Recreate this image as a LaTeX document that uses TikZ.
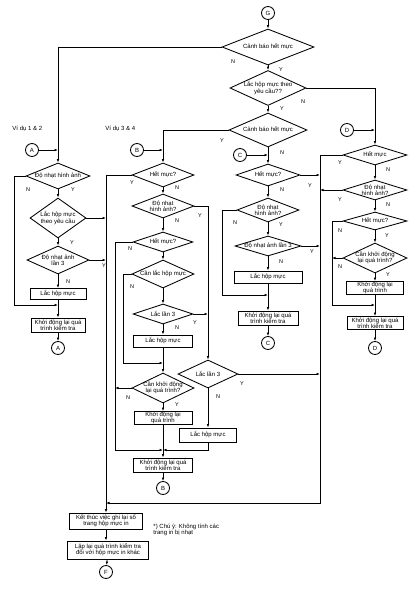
\documentclass[tikz,border=0pt]{standalone}
\usepackage{fontspec}
\setmainfont{Liberation Sans}
\usepackage{tikz}
\usetikzlibrary{arrows.meta,shapes.geometric}
\tikzset{
  decision/.style={diamond, draw, aspect=3, inner xsep=-3pt, inner ysep=-1pt, align=center},
  procbox/.style={rectangle, draw, inner sep=0.5pt, align=center},
  conn/.style={circle, draw, inner sep=0pt, minimum size=13pt},
  flow/.style={-{Latex[length=3.5pt,width=2.6pt]}},
  yn/.style={inner sep=0pt, font=\fontsize{5.5}{6}\selectfont}
}

\begin{document}
\begin{tikzpicture}[x=1pt, y=-1pt, line width=0.85pt, font=\fontsize{6}{6.2}\selectfont]
\useasboundingbox (0,0) rectangle (411,589);

\node[conn] (conG) at (268,13) {G};
\node[decision, minimum width=92, minimum height=36] (warn1) at (268,47) {Cảnh báo hết mực};
\node[decision, aspect=2, minimum width=76, minimum height=35] (ask) at (268,88) {Lắc hộp mực theo\\yêu cầu??};
\node[decision, minimum width=78, minimum height=34] (warn2) at (268,130) {Cảnh báo hết mực};
\node[anchor=west, inner sep=0pt] (ex12) at (12,129) {Ví dụ 1 \& 2};
\node[anchor=west, inner sep=0pt] (ex34) at (105,129) {Ví dụ 3 \& 4};

\node[conn] (conA) at (32,150) {A};
\node[decision, minimum width=64, minimum height=26] (a1) at (58,176) {Độ nhạt hình ảnh};
\node[decision, aspect=1.4, minimum width=56, minimum height=40] (a2) at (58,218) {Lắc hộp mực\\theo yêu cầu};
\node[decision, aspect=2, minimum width=62, minimum height=28] (a3) at (58,260) {Độ nhạt ảnh\\lần 3};
\node[procbox, minimum width=56, minimum height=11] (a4) at (58,294) {Lắc hộp mực};
\node[procbox, minimum width=54, minimum height=14] (a5) at (58,325) {Khởi động lại quá\\trình kiểm tra};
\node[conn] (endA) at (58,348) {A};
\coordinate (amerge) at (58,305);
\coordinate (aout) at (14,305);

\node[conn] (conB) at (137,150) {B};
\node[decision, minimum width=62, minimum height=24] (b1) at (163,175) {Hết mực?};
\node[decision, aspect=2.5, minimum width=62, minimum height=24] (b2) at (163,206) {Độ nhạt\\hình ảnh?};
\node[decision, minimum width=60, minimum height=20] (b3) at (163,242) {Hết mực?};
\node[decision, minimum width=62, minimum height=28] (b4) at (163,274) {Cần lắc hộp mực};
\node[decision, minimum width=60, minimum height=20] (b5) at (163,314) {Lắc lần 3};
\node[procbox, minimum width=59, minimum height=12] (b6) at (163,341) {Lắc hộp mực};
\node[decision, aspect=2, minimum width=62, minimum height=30] (b7) at (163,388) {Cần khởi động\\lại quá trình?};
\node[procbox, minimum width=58, minimum height=13] (b8) at (163,418) {Khởi động lại\\quá trình};
\node[decision, minimum width=60, minimum height=28] (b9) at (208,374) {Lắc lần 3};
\node[procbox, minimum width=57, minimum height=14] (b10) at (208,435) {Lắc hộp mực};
\node[procbox, minimum width=59, minimum height=14] (b11) at (163,465) {Khởi động lại quá\\trình kiểm tra};
\node[conn] (endB) at (163,488) {B};
\coordinate (bm1) at (163,363);
\coordinate (bin) at (123,363);
\coordinate (bm2) at (163,450);
\coordinate (bout) at (115,450);

\node[conn] (conC) at (240,155) {C};
\node[decision, minimum width=64, minimum height=22] (c1) at (268,175) {Hết mực?};
\node[decision, aspect=2.5, minimum width=62, minimum height=24] (c2) at (268,210) {Độ nhạt\\hình ảnh?};
\node[decision, minimum width=66, minimum height=20] (c3) at (268,246) {Độ nhạt ảnh lần 3};
\node[procbox, minimum width=68, minimum height=12] (c4) at (268,277) {Lắc hộp mực};
\node[procbox, minimum width=60, minimum height=14] (c5) at (268,318) {Khởi động lại quá\\trình kiểm tra};
\node[conn] (endC) at (268,343) {C};
\coordinate (cm) at (268,295);
\coordinate (cin) at (222,295);

\node[conn] (conD) at (347,130) {D};
\node[decision, minimum width=64, minimum height=20] (d1) at (375,155) {Hết mực};
\node[decision, aspect=2.5, minimum width=64, minimum height=20] (d2) at (375,190) {Độ nhạt\\hình ảnh?};
\node[decision, minimum width=64, minimum height=18] (d3) at (375,221) {Hết mực?};
\node[decision, aspect=2, minimum width=64, minimum height=30] (d4) at (375,258) {Cần khởi động\\lại quá trình?};
\node[procbox, minimum width=57, minimum height=13] (d5) at (375,288) {Khởi động lại\\quá trình};
\node[procbox, minimum width=56, minimum height=13] (d6) at (375,323) {Khởi động lại quá\\trình kiểm tra};
\node[conn] (endD) at (375,348) {D};
\coordinate (dm) at (375,305);
\coordinate (din) at (332,305);
\coordinate (dline) at (320,503);

\coordinate (fin) at (106,503);
\node[procbox, minimum width=73, minimum height=16] (e1) at (106,521) {Kết thúc việc ghi lại số\\trang hộp mực in};
\node[procbox, minimum width=81, minimum height=18] (e2) at (108,550) {Lặp lại quá trình kiểm tra\\đối với hộp mực in khác};
\node[conn] (endF) at (106,572) {F};
\node[anchor=west, align=left, inner sep=0pt] (note) at (153,530) {*) Chú ý: Không tính các\\trang in bị nhạt};

\draw[flow] (conG) -- (warn1);
\draw[flow] (warn1) -- (ask);
\draw[flow] (ask) -- (warn2);
\draw[flow] (warn1.west) -| (a1.north);
\draw[flow] (ask.east) -| (d1.north);
\draw[flow] (warn2.west) -| (b1.north);
\draw[flow] (warn2) -- (c1);

\draw[flow] (conA) -- (conA -| a1.north);
\draw[flow] (a1) -- (a2);
\draw[flow] (a1.west) -| (aout) -- (amerge);
\draw[flow] (a2) -- (a3);
\draw[flow] (a2.east) -- (a2.east -| fin);
\draw[flow] (a3) -- (a4);
\draw[flow] (a3.east) -- (a3.east -| fin);
\draw[flow] (a4) -- (a5);
\draw[flow] (a5) -- (endA);

\draw[flow] (conB) -- (conB -| b1.north);
\draw[flow] (b1.west) -| (e1.north);
\draw[flow] (b1) -- (b2);
\draw[flow] (b2.east) -| (b9.north);
\draw[flow] (b2) -- (b3);
\draw[flow] (b3.west) -| (bout) -- (bm2);
\draw[flow] (b3) -- (b4);
\draw[flow] (b4.west) -| (bin) -- (bm1);
\draw[flow] (b4) -- (b5);
\draw[flow] (b5.east) -- (b5.east -| b9.north);
\draw[flow] (b5) -- (b6);
\draw[flow] (b6) -- (b7);
\draw[flow] (b7.west) -- (b7.west -| bout);
\draw[flow] (b7) -- (b8);
\draw[flow] (b8) -- (b11);
\draw[flow] (b9.east) -- (b9.east -| dline);
\draw[flow] (b9) -- (b10);
\draw[flow] (b10.south) |- (bm2);
\draw[flow] (b11) -- (endB);

\draw[flow] (conC) -- (conC -| c1.north);
\draw[flow] (c1.east) -- (c1.east -| dline);
\draw[flow] (c1) -- (c2);
\draw[flow] (c2.west) -| (cin) -- (cm);
\draw[flow] (c2) -- (c3);
\draw[flow] (c3.east) -- (c3.east -| dline);
\draw[flow] (c3) -- (c4);
\draw[flow] (c4) -- (c5);
\draw[flow] (c5) -- (endC);

\draw[flow] (conD) -- (conD -| d1.north);
\draw[flow] (d1.west) -| (dline) -- (fin);
\draw[flow] (d1) -- (d2);
\draw[flow] (d2.west) -- (d2.west -| dline);
\draw[flow] (d2) -- (d3);
\draw[flow] (d3.west) -| (din) -- (dm);
\draw[flow] (d3) -- (d4);
\draw[flow] (d4.west) -- (d4.west -| din);
\draw[flow] (d4) -- (d5);
\draw[flow] (d5) -- (d6);
\draw[flow] (d6) -- (endD);

\draw[flow] (e1.south) -- (e1.south |- e2.north);
\draw[flow] (e2) -- (endF);

\node[yn] (l1) at (233,62) {N};
\node[yn] (l2) at (281,70) {Y};
\node[yn] (l3) at (303,102) {N};
\node[yn] (l4) at (282,109) {Y};
\node[yn] (l5) at (222,141) {Y};
\node[yn] (l6) at (282,153) {N};
\node[yn] (l7) at (28,190) {N};
\node[yn] (l8) at (73,190) {Y};
\node[yn] (l9) at (72,243) {Y};
\node[yn] (l10) at (104,266) {Y};
\node[yn] (l11) at (68,282) {N};
\node[yn] (l12) at (132,183) {Y};
\node[yn] (l13) at (177,188) {N};
\node[yn] (l14) at (200,216) {Y};
\node[yn] (l15) at (177,221) {N};
\node[yn] (l16) at (130,249) {N};
\node[yn] (l17) at (132,287) {N};
\node[yn] (l18) at (195,323) {Y};
\node[yn] (l19) at (177,328) {N};
\node[yn] (l20) at (128,398) {N};
\node[yn] (l21) at (177,405) {Y};
\node[yn] (l22) at (242,384) {Y};
\node[yn] (l23) at (218,397) {N};
\node[yn] (l24) at (310,186) {Y};
\node[yn] (l25) at (282,190) {N};
\node[yn] (l26) at (235,223) {N};
\node[yn] (l27) at (281,225) {Y};
\node[yn] (l28) at (312,252) {Y};
\node[yn] (l29) at (281,262) {N};
\node[yn] (l30) at (340,163) {Y};
\node[yn] (l31) at (388,170) {N};
\node[yn] (l32) at (340,200) {Y};
\node[yn] (l33) at (388,205) {N};
\node[yn] (l34) at (340,231) {N};
\node[yn] (l35) at (387,236) {Y};
\node[yn] (l36) at (340,267) {N};
\node[yn] (l37) at (388,275) {Y};
\end{tikzpicture}
\end{document}
